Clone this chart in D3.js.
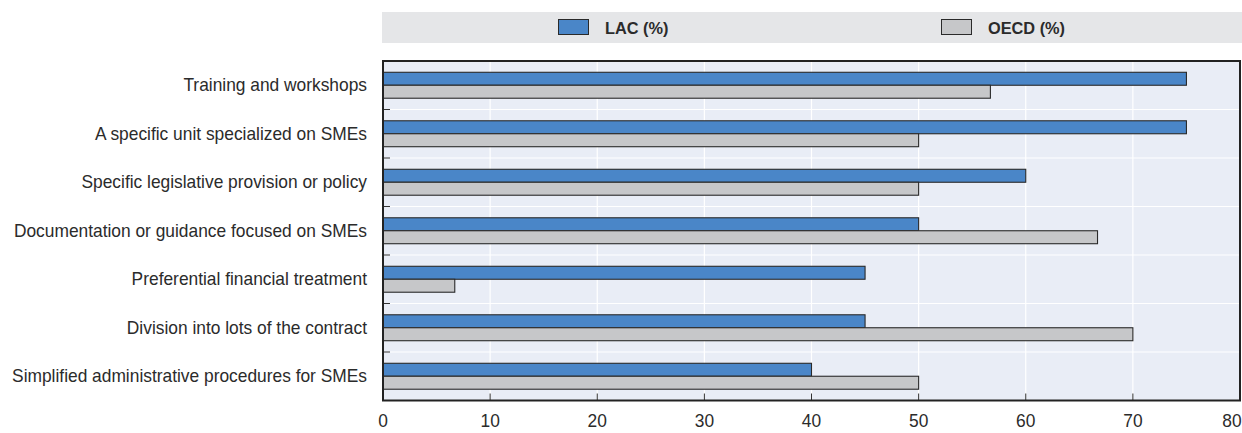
<!DOCTYPE html>
<html>
<head>
<meta charset="utf-8">
<script src="https://cdn.jsdelivr.net/npm/d3@7"></script>
<style>
  html, body { margin: 0; padding: 0; background: #fff; }
  svg { display: block; }
  text { font-family: "Liberation Sans", Arial, sans-serif; fill: #2b2b2b; }
</style>
</head>
<body>
<svg id="chart" width="1242" height="433"></svg>
<script>
// Categories, top to bottom
const categories = [
  "Training and workshops",
  "A specific unit specialized on SMEs",
  "Specific legislative provision or policy",
  "Documentation or guidance focused on SMEs",
  "Preferential financial treatment",
  "Division into lots of the contract",
  "Simplified administrative procedures for SMEs"
];
const lacValues  = [75, 75, 60, 50, 45, 45, 40];
const oecdValues = [56.7, 50, 50, 66.7, 6.7, 70, 50];
const seriesNames = ["LAC (%)", "OECD (%)"];
const xTicks = [0, 10, 20, 30, 40, 50, 60, 70, 80];

const colors = { lac: "#4a86c8", oecd: "#c6c7c9" };
const squeeze = 0.965; // horizontal compression for a condensed look

const svg = d3.select("#chart");
const plot = { left: 383, right: 1240, top: 61, bottom: 400.5 };

const x = d3.scaleLinear().domain([0, 80]).range([plot.left, plot.right]);
const y = d3.scaleBand().domain(categories).range([plot.top, plot.bottom]).paddingInner(0).paddingOuter(0);
const sub = d3.scaleBand().domain(["lac", "oecd"]).range([0, y.bandwidth()]).paddingInner(0).paddingOuter(0.87);

// Legend band
svg.append("rect").attr("x", 382).attr("y", 12).attr("width", 860).attr("height", 31).attr("fill", "#e5e6e8");
const legendItems = [
  { key: "lac", name: seriesNames[0], x: 558 },
  { key: "oecd", name: seriesNames[1], x: 941 }
];
legendItems.forEach(d => {
  svg.append("rect").attr("x", d.x + 0.5).attr("y", 19.5).attr("width", 30).attr("height", 15)
    .attr("fill", colors[d.key]).attr("stroke", "#2a2a2a").attr("stroke-width", 1);
  svg.append("text")
    .attr("transform", `translate(${d.x + 47},33.5) scale(0.96,1)`)
    .attr("font-size", 17).attr("font-weight", "bold")
    .text(d.name);
});

// Plot background
svg.append("rect").attr("x", plot.left).attr("y", plot.top)
  .attr("width", plot.right - plot.left).attr("height", plot.bottom - plot.top).attr("fill", "#e9edf6");

// Vertical gridlines
svg.append("g").selectAll("line").data(xTicks.slice(1, -1)).join("line")
  .attr("x1", d => x(d)).attr("x2", d => x(d))
  .attr("y1", plot.top).attr("y2", plot.bottom)
  .attr("stroke", "#ffffff").attr("stroke-width", 1.2);

// Horizontal gridlines at category boundaries
const boundaries = categories.slice(1).map(c => y(c));
svg.append("g").selectAll("line").data(boundaries).join("line")
  .attr("x1", plot.left).attr("x2", plot.right)
  .attr("y1", d => d).attr("y2", d => d)
  .attr("stroke", "#ffffff").attr("stroke-width", 1.2);

// Bars
const bars = svg.append("g");
categories.forEach((c, i) => {
  [["lac", lacValues[i]], ["oecd", oecdValues[i]]].forEach(([k, v]) => {
    bars.append("rect")
      .attr("x", x(0))
      .attr("y", y(c) + sub(k))
      .attr("width", x(v) - x(0))
      .attr("height", sub.bandwidth())
      .attr("fill", colors[k])
      .attr("stroke", "#2a2a2a")
      .attr("stroke-width", 1.1);
  });
});

// Inner ticks on the left at category boundaries
svg.append("g").selectAll("line").data(boundaries).join("line")
  .attr("x1", plot.left).attr("x2", plot.left + 7)
  .attr("y1", d => d).attr("y2", d => d)
  .attr("stroke", "#333").attr("stroke-width", 1);

// Inner ticks on the bottom axis
svg.append("g").selectAll("line").data(xTicks.slice(1, -1)).join("line")
  .attr("x1", d => x(d)).attr("x2", d => x(d))
  .attr("y1", plot.bottom - 7).attr("y2", plot.bottom)
  .attr("stroke", "#333").attr("stroke-width", 1);

// Frame
svg.append("rect").attr("x", plot.left).attr("y", plot.top)
  .attr("width", plot.right - plot.left).attr("height", plot.bottom - plot.top)
  .attr("fill", "none").attr("stroke", "#222").attr("stroke-width", 2);

// X axis labels
svg.append("g").selectAll("text").data(xTicks).join("text")
  .attr("transform", (d, i) => `translate(${i === xTicks.length - 1 ? x(d) - 8 : x(d)},427) scale(${squeeze},1)`)
  .attr("text-anchor", "middle")
  .attr("font-size", 18)
  .text(d => d);

// Category labels
svg.append("g").selectAll("text").data(categories).join("text")
  .attr("transform", d => `translate(367,${y(d) + y.bandwidth() / 2 + 5.8}) scale(${squeeze},1)`)
  .attr("text-anchor", "end")
  .attr("font-size", 18)
  .text(d => d);
</script>
</body>
</html>
